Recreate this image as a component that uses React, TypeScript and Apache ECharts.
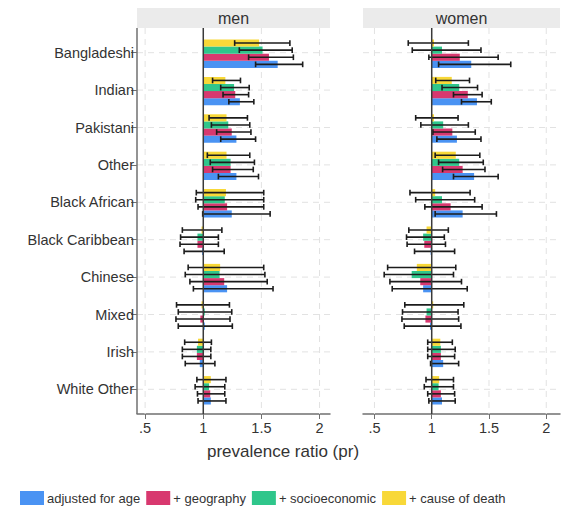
import React, { useEffect, useRef } from "react";
import * as echarts from "echarts";

const categories = [
  "Bangladeshi", "Indian", "Pakistani", "Other", "Black African",
  "Black Caribbean", "Chinese", "Mixed", "Irish", "White Other",
];
const seriesNames = ["adjusted for age", "+ geography", "+ socioeconomic", "+ cause of death"];
const seriesColors = ["#4a93f3", "#d8386f", "#2fc68b", "#f8d838"];
const xTicks = [0.5, 1, 1.5, 2];

// [value, ci low, ci high] per category
const menAge = [[1.64, 1.45, 1.855], [1.315, 1.22, 1.435], [1.285, 1.15, 1.45], [1.285, 1.13, 1.475], [1.245, 0.995, 1.575], [0.99, 0.835, 1.18], [1.205, 0.915, 1.6], [1.0, 0.785, 1.25], [0.97, 0.845, 1.1], [1.065, 0.955, 1.195]];
const menGeo = [[1.565, 1.39, 1.775], [1.275, 1.17, 1.39], [1.245, 1.115, 1.41], [1.235, 1.08, 1.43], [1.205, 0.955, 1.52], [0.95, 0.8, 1.13], [1.18, 0.885, 1.55], [0.975, 0.765, 1.23], [0.945, 0.82, 1.065], [1.06, 0.95, 1.185]];
const menSocio = [[1.51, 1.31, 1.765], [1.265, 1.15, 1.395], [1.215, 1.07, 1.4], [1.235, 1.06, 1.44], [1.185, 0.935, 1.52], [0.95, 0.805, 1.13], [1.14, 0.845, 1.53], [1.0, 0.785, 1.245], [0.945, 0.82, 1.065], [1.05, 0.93, 1.185]];
const menCause = [[1.48, 1.27, 1.745], [1.19, 1.08, 1.32], [1.2, 1.05, 1.38], [1.2, 1.035, 1.4], [1.195, 0.94, 1.52], [0.985, 0.82, 1.16], [1.145, 0.87, 1.52], [0.985, 0.77, 1.225], [0.955, 0.84, 1.07], [1.065, 0.945, 1.195]];

const womenAge = [[1.345, 1.06, 1.69], [1.395, 1.26, 1.52], [1.22, 1.045, 1.43], [1.37, 1.19, 1.58], [1.27, 1.03, 1.565], [0.99, 0.85, 1.2], [0.925, 0.655, 1.31], [0.985, 0.76, 1.255], [1.1, 0.99, 1.235], [1.09, 0.975, 1.205]];
const womenGeo = [[1.245, 0.975, 1.58], [1.315, 1.19, 1.44], [1.18, 1.01, 1.38], [1.27, 1.095, 1.465], [1.165, 0.94, 1.44], [0.935, 0.785, 1.12], [0.9, 0.635, 1.26], [0.945, 0.74, 1.235], [1.08, 0.965, 1.2], [1.08, 0.965, 1.2]];
const womenSocio = [[1.09, 0.83, 1.43], [1.24, 1.09, 1.4], [1.1, 0.905, 1.32], [1.24, 1.06, 1.45], [1.09, 0.86, 1.375], [0.925, 0.78, 1.11], [0.825, 0.585, 1.19], [0.955, 0.745, 1.23], [1.08, 0.965, 1.205], [1.06, 0.935, 1.19]];
const womenCause = [[1.02, 0.795, 1.32], [1.175, 1.035, 1.33], [1.02, 0.86, 1.23], [1.21, 1.03, 1.42], [1.03, 0.81, 1.335], [0.955, 0.8, 1.145], [0.87, 0.615, 1.21], [1.0, 0.765, 1.28], [1.075, 0.965, 1.18], [1.065, 0.95, 1.19]];

const menData = [menAge, menGeo, menSocio, menCause];
const womenData = [womenAge, womenGeo, womenSocio, womenCause];

const FONT = "'Liberation Sans', Arial, sans-serif";
const TEXT = "#333333";

export default function App() {
  const ref = useRef<HTMLDivElement>(null);
  useEffect(() => {
    if (!ref.current) return;
    const chart = echarts.init(ref.current, undefined, { renderer: "svg" });

    const grids = [
      { left: 137, top: 34, width: 193, height: 374 },
      { left: 363, top: 34, width: 197, height: 374 },
    ];
    const xMins = [0.43, 0.4];
    const xMaxs = [2.09, 2.12];

    const xAxes = [0, 1].map((i) => ({
      type: "value",
      gridIndex: i,
      min: xMins[i],
      max: xMaxs[i],
      offset: 6,
      axisLine: { show: true, lineStyle: { color: "#707070", width: 1.5 } },
      axisTick: { show: true, length: 5, customValues: xTicks, lineStyle: { color: "#707070", width: 1 } },
      axisLabel: {
        show: true,
        customValues: xTicks,
        margin: 6,
        fontSize: 14.5,
        fontFamily: FONT,
        color: TEXT,
        formatter: (v: number) => (v === 0.5 ? ".5" : String(v)),
      },
      splitLine: { show: false },
    }));

    const yAxes = [0, 1].map((i) => ({
      type: "category",
      gridIndex: i,
      data: categories,
      inverse: true,
      axisLine: { show: false },
      axisTick: { show: i === 0, length: 6, alignWithLabel: true, lineStyle: { color: "#707070", width: 1 } },
      axisLabel: { show: i === 0, margin: 3, fontSize: 14.5, fontFamily: FONT, color: TEXT },
      splitLine: { show: false },
    }));

    const series: any[] = [];

    [0, 1].forEach((p) => {
      series.push({
        type: "custom",
        name: "vgrid" + p,
        xAxisIndex: p,
        yAxisIndex: p,
        silent: true,
        z: 1,
        data: xTicks.filter((t) => t !== 1).map((t) => [t, 0]),
        encode: { x: 0, y: 1 },
        renderItem: (params: any, api: any) => {
          const cs = params.coordSys;
          const x = api.coord([api.value(0), 0])[0];
          return {
            type: "line",
            shape: { x1: x, y1: cs.y - 6, x2: x, y2: cs.y + cs.height + 6 },
            style: { stroke: "#e2e2e2", lineWidth: 1, lineDash: [6, 5] },
          };
        },
      });
      series.push({
        type: "custom",
        name: "hgrid" + p,
        xAxisIndex: p,
        yAxisIndex: p,
        silent: true,
        z: 1,
        data: categories.map((c, i) => [1, i]),
        encode: { x: 0, y: 1 },
        renderItem: (params: any, api: any) => {
          const cs = params.coordSys;
          const y = api.coord([1, api.value(1)])[1];
          return {
            type: "line",
            shape: { x1: cs.x, y1: y, x2: cs.x + cs.width, y2: y },
            style: { stroke: "#e2e2e2", lineWidth: 1, lineDash: [6, 5] },
          };
        },
      });

      const data = p === 0 ? menData : womenData;
      data.forEach((arr, k) => {
        series.push({
          type: "custom",
          name: seriesNames[k],
          xAxisIndex: p,
          yAxisIndex: p,
          z: 3,
          itemStyle: { color: seriesColors[k] },
          data: arr.map((d, i) => [d[0], i, d[1], d[2]]),
          encode: { x: [0, 2, 3], y: 1 },
          renderItem: (params: any, api: any) => {
            const cat = api.value(1);
            const v = api.value(0);
            const lo = api.value(2);
            const hi = api.value(3);
            const band = api.size([0, 1])[1];
            const h = band * 0.19;
            const c1 = api.coord([1, cat]);
            const cy = c1[1] + 1 + (1.5 - k) * h;
            const xv = api.coord([v, cat])[0];
            const xl = api.coord([lo, cat])[0];
            const xh = api.coord([hi, cat])[0];
            const x0 = Math.min(c1[0], xv);
            const w = Math.max(Math.abs(xv - c1[0]), 1.5);
            const capH = h * 0.8;
            const stroke = { stroke: "#1c1c1c", lineWidth: 1.6 };
            return {
              type: "group",
              children: [
                {
                  type: "rect",
                  shape: { x: x0, y: cy - h / 2, width: w, height: h },
                  style: { fill: seriesColors[k] },
                },
                { type: "line", shape: { x1: xl, y1: cy, x2: xh, y2: cy }, style: stroke },
                { type: "line", shape: { x1: xl, y1: cy - capH / 2, x2: xl, y2: cy + capH / 2 }, style: stroke },
                { type: "line", shape: { x1: xh, y1: cy - capH / 2, x2: xh, y2: cy + capH / 2 }, style: stroke },
              ],
            };
          },
        });
      });

      series.push({
        type: "custom",
        name: "ref" + p,
        xAxisIndex: p,
        yAxisIndex: p,
        silent: true,
        z: 5,
        data: [[1, 0]],
        encode: { x: 0, y: 1 },
        renderItem: (params: any, api: any) => {
          const cs = params.coordSys;
          const x = api.coord([1, 0])[0];
          const children: any[] = [
            {
              type: "line",
              shape: { x1: x, y1: cs.y - 6, x2: x, y2: cs.y + cs.height + 6 },
              style: { stroke: "#3a3a3a", lineWidth: 1.5 },
            },
          ];
          if (p === 0) {
            children.push({
              type: "line",
              shape: { x1: cs.x, y1: cs.y - 6, x2: cs.x, y2: cs.y + cs.height + 6 },
              style: { stroke: "#707070", lineWidth: 1.5 },
            });
          }
          return { type: "group", children };
        },
      });
    });

    chart.setOption({
      animation: false,
      backgroundColor: "#ffffff",
      textStyle: { fontFamily: FONT },
      grid: grids,
      xAxis: xAxes,
      yAxis: yAxes,
      legend: {
        data: seriesNames.map((n, i) => ({ name: n, itemStyle: { color: seriesColors[i] } })),
        left: 20,
        top: 491,
        padding: 0,
        icon: "rect",
        itemWidth: 24,
        itemHeight: 14,
        itemGap: 6,
        selectedMode: false,
        textStyle: { fontSize: 13, fontFamily: FONT, color: TEXT, padding: [0, 0, 0, -2] },
      },
      graphic: [
        {
          type: "rect",
          shape: { x: 137, y: 8, width: 193, height: 20 },
          style: { fill: "#ebebeb" },
          silent: true,
        },
        {
          type: "text",
          x: 233.5,
          y: 18,
          style: { text: "men", fontSize: 16, fontFamily: FONT, fill: TEXT, textAlign: "center", textVerticalAlign: "middle" },
          silent: true,
        },
        {
          type: "rect",
          shape: { x: 363, y: 8, width: 197, height: 20 },
          style: { fill: "#ebebeb" },
          silent: true,
        },
        {
          type: "text",
          x: 461.5,
          y: 18,
          style: { text: "women", fontSize: 16, fontFamily: FONT, fill: TEXT, textAlign: "center", textVerticalAlign: "middle" },
          silent: true,
        },
        {
          type: "text",
          x: 283,
          y: 451,
          style: { text: "prevalence ratio (pr)", fontSize: 17, fontFamily: FONT, fill: TEXT, textAlign: "center", textVerticalAlign: "middle" },
          silent: true,
        },
      ],
      series,
    });
    return () => chart.dispose();
  }, []);
  return <div ref={ref} style={{ position: "absolute", left: 0, top: 0, width: 570, height: 522 }} />;
}
